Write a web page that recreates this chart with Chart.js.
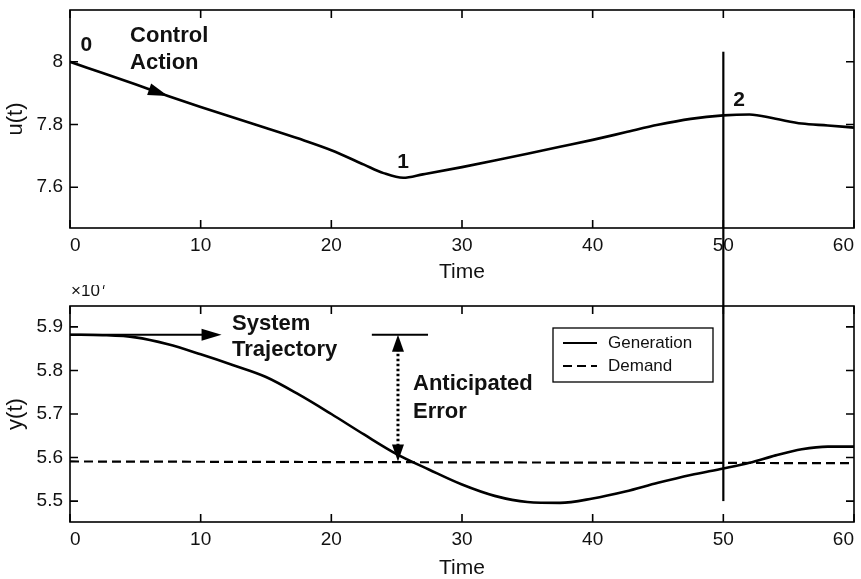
<!DOCTYPE html>
<html>
<head>
<meta charset="utf-8">
<script src="https://cdn.jsdelivr.net/npm/chart.js@4.4.1/dist/chart.umd.min.js"></script>
<style>
  html, body { margin: 0; padding: 0; background: #fff; }
  #wrap { position: relative; width: 861px; height: 579px; }
  canvas { position: absolute; left: 0; }
  #top { top: 0; }
  #bottom { top: 285px; }
</style>
</head>
<body>
<div id="wrap">
  <canvas id="top" width="861" height="285"></canvas>
  <canvas id="bottom" width="861" height="294"></canvas>
</div>
<script>
// time axis
var timeTicks = [0, 10, 20, 30, 40, 50, 60];

// control action u(t)
var uTime   = [0, 2.5, 5, 7.5, 10, 12.5, 15, 17.5, 20, 22.5, 24, 25.5, 27, 30, 32.5, 35, 37.5, 40, 42.5, 45, 47.5, 50, 52, 54, 56, 58, 60];
var uValues = [8.000, 7.964, 7.928, 7.891, 7.856, 7.822, 7.789, 7.755, 7.718, 7.672, 7.645, 7.630, 7.641, 7.664, 7.685, 7.707, 7.729, 7.751, 7.775, 7.799, 7.818, 7.829, 7.832, 7.818, 7.803, 7.797, 7.790];
var uTicks  = [7.6, 7.8, 8];

// generation and demand y(t), in units of 10^7
var genTime   = [0, 2.5, 5, 7.5, 10, 12.5, 15, 17.5, 20, 22.5, 25, 27.5, 30, 32.5, 35, 37.5, 40, 42.5, 45, 47.5, 50, 52, 54, 56, 58, 60];
var genValues = [5.882, 5.881, 5.876, 5.860, 5.837, 5.812, 5.785, 5.745, 5.700, 5.653, 5.608, 5.572, 5.538, 5.512, 5.498, 5.496, 5.506, 5.522, 5.542, 5.560, 5.575, 5.588, 5.605, 5.619, 5.625, 5.625];
var demandTime   = [0, 60];
var demandValues = [5.591, 5.587];
var yTicks = [5.5, 5.6, 5.7, 5.8, 5.9];

// prediction horizon marker
var horizonTime = 50;
var horizonTop = 8.032;     // on u(t) axis
var horizonBottom = 5.5;    // on y(t) axis

var family = '"Liberation Sans", Arial, Helvetica, sans-serif';
var ink = '#111';

function points(xs, ys) {
  return xs.map(function(x, i) { return {x: x, y: ys[i]}; });
}

function arrowHead(ctx, x1, y1, x2, y2, len, half) {
  var a = Math.atan2(y2 - y1, x2 - x1);
  var bx = x2 - len * Math.cos(a), by = y2 - len * Math.sin(a);
  ctx.beginPath();
  ctx.moveTo(x2, y2);
  ctx.lineTo(bx + half * Math.sin(a), by - half * Math.cos(a));
  ctx.lineTo(bx - half * Math.sin(a), by + half * Math.cos(a));
  ctx.closePath();
  ctx.fill();
}

function writeNotes(chart, notes) {
  var ctx = chart.ctx, xs = chart.scales.x, ys = chart.scales.y;
  ctx.save();
  ctx.fillStyle = ink;
  ctx.textBaseline = 'middle';
  notes.forEach(function(n) {
    ctx.font = 'bold ' + n.size + 'px ' + family;
    ctx.textAlign = n.align;
    ctx.fillText(n.text, xs.getPixelForValue(n.t), ys.getPixelForValue(n.v));
  });
  ctx.restore();
}

// box and inward ticks, matlab style
var framePlugin = {
  id: 'frame',
  afterDraw: function(chart) {
    var ctx = chart.ctx, a = chart.chartArea;
    var xs = chart.scales.x, ys = chart.scales.y;
    ctx.save();
    ctx.strokeStyle = '#000';
    ctx.lineWidth = 1.6;
    ctx.strokeRect(a.left, a.top, a.right - a.left, a.bottom - a.top);
    ctx.beginPath();
    xs.ticks.forEach(function(t) {
      var p = xs.getPixelForValue(t.value);
      ctx.moveTo(p, a.bottom); ctx.lineTo(p, a.bottom - 8);
      ctx.moveTo(p, a.top);    ctx.lineTo(p, a.top + 8);
    });
    ys.ticks.forEach(function(t) {
      var p = ys.getPixelForValue(t.value);
      ctx.moveTo(a.left, p);  ctx.lineTo(a.left + 8, p);
      ctx.moveTo(a.right, p); ctx.lineTo(a.right - 8, p);
    });
    ctx.stroke();
    ctx.restore();
  }
};

var topNotes = [
  {text: '0', t: 1.25, v: 8.054, align: 'center', size: 21},
  {text: 'Control', t: 4.6, v: 8.081, align: 'left', size: 22},
  {text: 'Action', t: 4.6, v: 7.995, align: 'left', size: 22},
  {text: '1', t: 25.5, v: 7.681, align: 'center', size: 21},
  {text: '2', t: 51.2, v: 7.876, align: 'center', size: 21}
];

var bottomNotes = [
  {text: 'System', t: 12.4, v: 5.907, align: 'left', size: 22},
  {text: 'Trajectory', t: 12.4, v: 5.846, align: 'left', size: 22},
  {text: 'Anticipated', t: 26.25, v: 5.768, align: 'left', size: 22},
  {text: 'Error', t: 26.25, v: 5.705, align: 'left', size: 22}
];

var topMarks = {
  id: 'topMarks',
  afterDraw: function(chart) {
    var ctx = chart.ctx, xs = chart.scales.x, ys = chart.scales.y;
    ctx.save();
    ctx.strokeStyle = '#000';
    ctx.fillStyle = '#000';
    // horizon line, continues in the lower canvas
    var hx = xs.getPixelForValue(horizonTime);
    ctx.lineWidth = 2.2;
    ctx.beginPath();
    ctx.moveTo(hx, ys.getPixelForValue(horizonTop));
    ctx.lineTo(hx, chart.height);
    ctx.stroke();
    // control action arrow head on the curve
    arrowHead(ctx,
      xs.getPixelForValue(uTime[2]), ys.getPixelForValue(uValues[2]),
      xs.getPixelForValue(uTime[3]), ys.getPixelForValue(uValues[3]), 20, 6);
    ctx.restore();
    writeNotes(chart, topNotes);
  }
};

var bottomMarks = {
  id: 'bottomMarks',
  afterDraw: function(chart) {
    var ctx = chart.ctx, xs = chart.scales.x, ys = chart.scales.y, a = chart.chartArea;
    ctx.save();
    ctx.strokeStyle = '#000';
    ctx.fillStyle = '#000';
    // horizon line
    var hx = xs.getPixelForValue(horizonTime);
    ctx.lineWidth = 2.2;
    ctx.beginPath();
    ctx.moveTo(hx, 0);
    ctx.lineTo(hx, ys.getPixelForValue(horizonBottom));
    ctx.stroke();

    // system trajectory arrow
    var y0 = ys.getPixelForValue(genValues[0]);
    var tipX = xs.getPixelForValue(11.6);
    ctx.lineWidth = 2.2;
    ctx.beginPath();
    ctx.moveTo(xs.getPixelForValue(0), y0);
    ctx.lineTo(tipX - 10, y0);
    ctx.stroke();
    arrowHead(ctx, tipX - 20, y0, tipX, y0, 20, 6);

    // anticipated error
    var ex = xs.getPixelForValue(25.1);
    var yd = ys.getPixelForValue(demandValues[0]);
    ctx.beginPath();
    ctx.moveTo(xs.getPixelForValue(23.1), y0);
    ctx.lineTo(xs.getPixelForValue(27.4), y0);
    ctx.stroke();
    ctx.lineWidth = 3;
    ctx.setLineDash([2.5, 2.5]);
    ctx.beginPath();
    ctx.moveTo(ex, y0 + 14);
    ctx.lineTo(ex, yd - 14);
    ctx.stroke();
    ctx.setLineDash([]);
    arrowHead(ctx, ex, y0 + 17, ex, y0, 17, 6);
    arrowHead(ctx, ex, yd - 17, ex, yd, 17, 6);

    // exponent label
    ctx.fillStyle = ink;
    ctx.textAlign = 'left';
    ctx.textBaseline = 'alphabetic';
    ctx.font = '17px ' + family;
    ctx.fillText('\u00d710', a.left + 1, a.top - 10);
    var w = ctx.measureText('\u00d710').width;
    ctx.font = '12px ' + family;
    ctx.fillText('7', a.left + 2 + w, a.top - 17);

    // legend box
    var bx = a.right - 301, by = a.top + 22, bw = 160, bh = 54;
    ctx.fillStyle = '#fff';
    ctx.fillRect(bx, by, bw, bh);
    ctx.lineWidth = 1.3;
    ctx.strokeRect(bx, by, bw, bh);
    ctx.font = '17px ' + family;
    ctx.textBaseline = 'middle';
    chart.data.datasets.forEach(function(ds, i) {
      var ly = by + 15 + i * 23;
      ctx.strokeStyle = '#000';
      ctx.lineWidth = 2.2;
      ctx.setLineDash(ds.borderDash || []);
      ctx.beginPath();
      ctx.moveTo(bx + 10, ly);
      ctx.lineTo(bx + 44, ly);
      ctx.stroke();
      ctx.setLineDash([]);
      ctx.fillStyle = ink;
      ctx.fillText(ds.label, bx + 55, ly);
    });
    ctx.restore();
    writeNotes(chart, bottomNotes);
  }
};

function timeAxis(titleBottom) {
  return {
    type: 'linear', min: 0, max: 60,
    afterBuildTicks: function(s) { s.ticks = timeTicks.map(function(v) { return {value: v}; }); },
    afterFit: function(s) { s.height = 57; s.paddingLeft = 0; s.paddingRight = 0; },
    grid: {display: false, drawTicks: false},
    border: {display: false},
    ticks: {padding: 6, align: 'inner', color: ink, maxRotation: 0, autoSkip: false, font: {family: family, size: 19}},
    title: {display: true, text: 'Time', color: ink, font: {family: family, size: 21, lineHeight: 1}, padding: {top: 0, bottom: titleBottom}}
  };
}

function valueAxis(min, max, tickList, label) {
  return {
    min: min, max: max,
    afterBuildTicks: function(s) { s.ticks = tickList.map(function(v) { return {value: v}; }); },
    afterFit: function(s) { s.width = 70; s.paddingTop = 0; s.paddingBottom = 0; },
    grid: {display: false, drawTicks: false},
    border: {display: false},
    ticks: {padding: 7, color: ink, font: {family: family, size: 19}, callback: function(v) { return String(v); }},
    title: {display: true, text: label, color: ink, font: {family: family, size: 22, lineHeight: 1}, padding: {top: 5, bottom: 0}}
  };
}

new Chart(document.getElementById('top'), {
  type: 'line',
  data: {
    datasets: [{
      label: 'u(t)',
      data: points(uTime, uValues),
      borderColor: '#000',
      borderWidth: 2.6,
      pointRadius: 0,
      cubicInterpolationMode: 'monotone'
    }]
  },
  options: {
    responsive: false,
    animation: false,
    layout: {padding: {top: 10, right: 7, left: 0, bottom: 0}},
    plugins: {legend: {display: false}, tooltip: {enabled: false}},
    scales: {
      x: timeAxis(2),
      y: valueAxis(7.47, 8.165, uTicks, 'u(t)')
    }
  },
  plugins: [framePlugin, topMarks]
});

new Chart(document.getElementById('bottom'), {
  type: 'line',
  data: {
    datasets: [{
      label: 'Generation',
      data: points(genTime, genValues),
      borderColor: '#000',
      borderWidth: 2.6,
      pointRadius: 0,
      cubicInterpolationMode: 'monotone'
    }, {
      label: 'Demand',
      data: points(demandTime, demandValues),
      borderColor: '#000',
      borderWidth: 2.2,
      borderDash: [9, 5],
      pointRadius: 0
    }]
  },
  options: {
    responsive: false,
    animation: false,
    layout: {padding: {top: 21, right: 7, left: 0, bottom: 0}},
    plugins: {legend: {display: false}, tooltip: {enabled: false}},
    scales: {
      x: timeAxis(0),
      y: valueAxis(5.452, 5.948, yTicks, 'y(t)')
    }
  },
  plugins: [framePlugin, bottomMarks]
});
</script>
</body>
</html>
